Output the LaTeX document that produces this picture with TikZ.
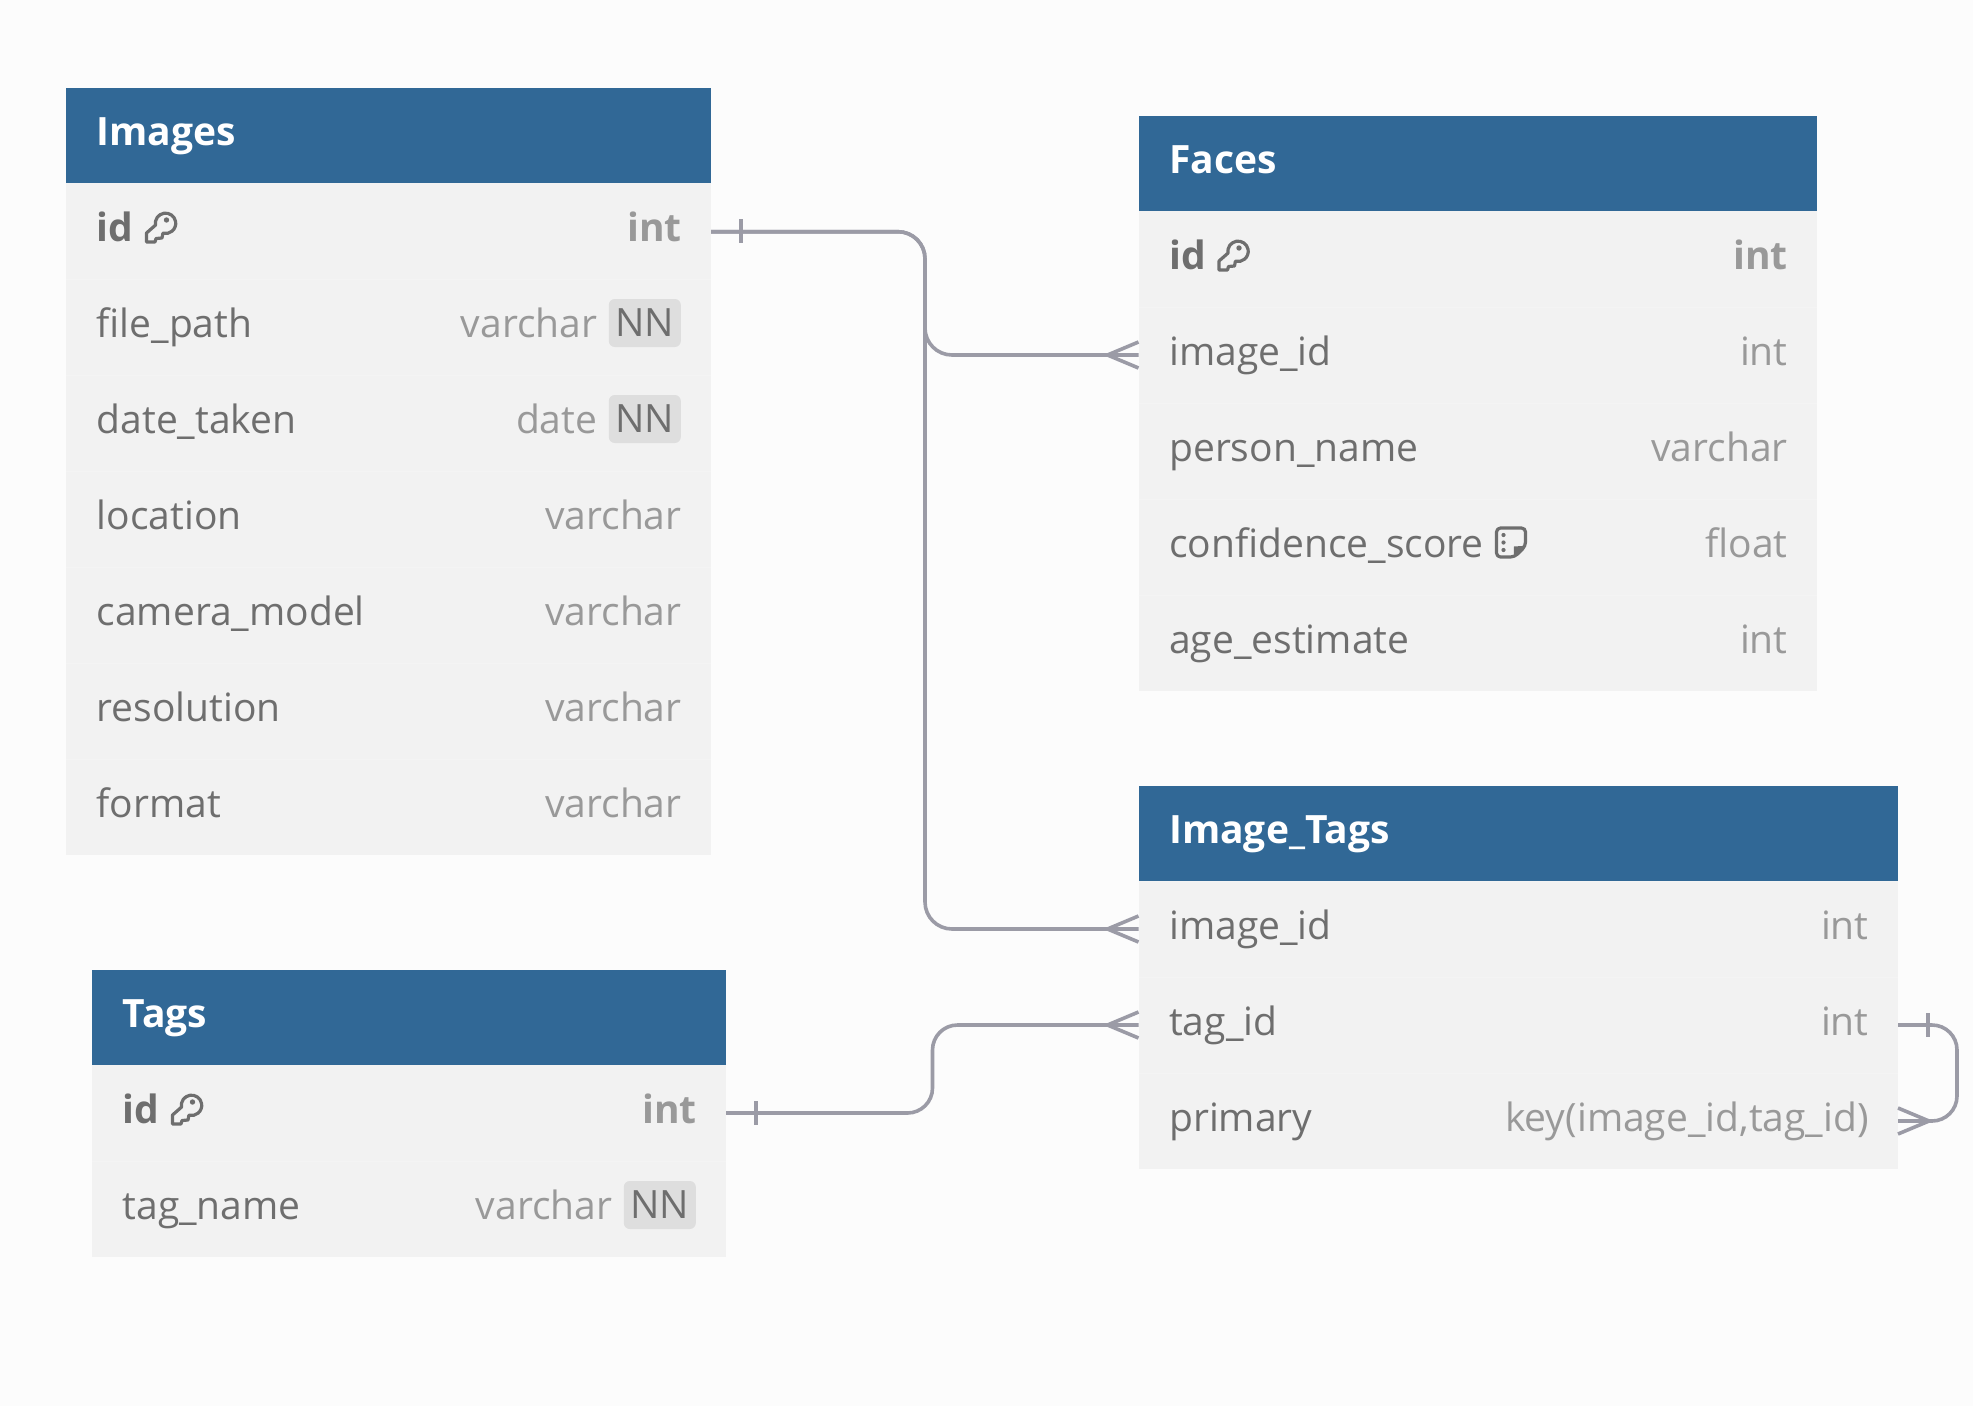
\documentclass[tikz,border=0pt]{standalone}
\usepackage{fontspec}
\setmainfont{Open Sans}
\definecolor{bgc}{HTML}{FCFCFC}
\definecolor{headc}{HTML}{316896}
\definecolor{bodyc}{HTML}{F2F2F2}
\definecolor{sepc}{HTML}{F4F4F4}
\definecolor{namec}{HTML}{6E6E6E}
\definecolor{typec}{HTML}{999999}
\definecolor{badgec}{HTML}{DEDEDE}
\definecolor{linec}{HTML}{9B9BA6}
\tikzset{
  headbox/.style={fill=headc,draw=none,anchor=north west,inner sep=0pt,outer sep=0pt,minimum height=95.5pt},
  rowbox/.style={fill=bodyc,draw=none,anchor=north west,inner sep=0pt,outer sep=0pt,minimum height=96pt},
  rowsep/.style={draw=sepc,line width=1pt},
  titletxt/.style={text=white,font=\fontsize{39}{44}\selectfont\bfseries,anchor=base west,inner sep=0pt},
  nametxt/.style={text=namec,font=\fontsize{39}{44}\selectfont,anchor=base west,inner sep=0pt},
  typetxt/.style={text=typec,font=\fontsize{39}{44}\selectfont,anchor=base east,inner sep=0pt},
  badge/.style={fill=badgec,rounded corners=6pt,text=namec,font=\fontsize{39}{44}\selectfont,anchor=east,inner sep=0pt,
    minimum width=72pt,minimum height=48pt,text height=26pt,text depth=0pt},
  conn/.style={draw=linec,line width=3.6pt},
  iconline/.style={draw=namec,line width=3.2pt,line join=round},
  keyicon/.pic={
    \draw[iconline] (10.5,14.1) arc[start angle=170,end angle=465,radius=10.2] -- (17,27) -- (11,27.5) -- (10,31) -- (1.5,31) -- (1.5,22) -- cycle;
    \fill[namec] (21.5,9) circle (2.7);
  },
  noteicon/.pic={
    \draw[iconline,rounded corners=4pt] (0,0) -- (29,0) -- (29,18) -- (18,29) -- (0,29) -- cycle;
    \draw[iconline,line join=miter] (27,19.5) -- (19,20) -- (19,27);
    \fill[namec] (19,20) -- (28,19) -- (19,28) -- cycle;
    \fill[namec] (7,7) circle (2.1) (7,14.5) circle (2.1) (7,22) circle (2.1);
  },
}
% header: name, x, y, width, title
\newcommand{\ERhead}[5]{%
  \node[headbox,minimum width=#4pt] (#1) at (#2,#3) {};
  \node[titletxt] (#1t) at ([xshift=30.5pt,yshift=-57.5pt]#1.north west) {#5};
}
% row: name, x, y, width, field, type
\newcommand{\ERrow}[6]{%
  \node[rowbox,minimum width=#4pt] (#1) at (#2,#3) {};
  \draw[rowsep] (#1.north west) -- (#1.north east);
  \node[nametxt] (#1n) at ([xshift=30.5pt,yshift=-58.3pt]#1.north west) {#5};
  \node[typetxt] (#1v) at ([xshift=-29.2pt,yshift=-58.3pt]#1.north east) {#6};
}
% row with NN badge
\newcommand{\ERrowNN}[6]{%
  \node[rowbox,minimum width=#4pt] (#1) at (#2,#3) {};
  \draw[rowsep] (#1.north west) -- (#1.north east);
  \node[nametxt] (#1n) at ([xshift=30.5pt,yshift=-58.3pt]#1.north west) {#5};
  \node[badge] (#1b) at ([xshift=-30pt,yshift=4pt]#1.east) {NN};
  \node[typetxt] (#1v) at ([xshift=-113.5pt,yshift=-58.3pt]#1.north east) {#6};
}
% primary key row
\newcommand{\ERrowPK}[6]{%
  \node[rowbox,minimum width=#4pt] (#1) at (#2,#3) {};
  \node[nametxt,font=\fontsize{39}{44}\selectfont\bfseries] (#1n) at ([xshift=30.5pt,yshift=-58.3pt]#1.north west) {#5};
  \node[typetxt,font=\fontsize{39}{44}\selectfont\bfseries] (#1v) at ([xshift=-29.2pt,yshift=-58.3pt]#1.north east) {#6};
  \pic at ([xshift=79pt,yshift=-28pt]#1.north west) {keyicon};
}
\newcommand{\Crowleft}[1]{\draw[conn] ([xshift=-31pt]#1) -- ([yshift=13pt]#1) ([xshift=-31pt]#1) -- ([yshift=-13pt]#1);}
\newcommand{\Crowright}[1]{\draw[conn] ([xshift=31pt]#1) -- ([yshift=13pt]#1) ([xshift=31pt]#1) -- ([yshift=-13pt]#1);}
\newcommand{\Onemark}[1]{\draw[conn,line width=3.2pt] ([xshift=30pt,yshift=12pt]#1) -- ([xshift=30pt,yshift=-12pt]#1);}
\begin{document}
\begin{tikzpicture}[x=1pt,y=-1pt]
\useasboundingbox (0,0) rectangle (1973,1406);
\fill[bgc] (0,0) rectangle (1973,1406);

% Images
\ERhead{img}{66}{87.5}{645}{Images}
\ERrowPK{imgid}{66}{183}{645}{id}{int}
\ERrowNN{imgpath}{66}{279}{645}{file\_path}{varchar}
\ERrowNN{imgdate}{66}{375}{645}{date\_taken}{date}
\ERrow{imgloc}{66}{471}{645}{location}{varchar}
\ERrow{imgcam}{66}{567}{645}{camera\_model}{varchar}
\ERrow{imgres}{66}{663}{645}{resolution}{varchar}
\ERrow{imgfmt}{66}{759}{645}{format}{varchar}

% Faces
\ERhead{fac}{1138.5}{115.5}{678.5}{Faces}
\ERrowPK{facid}{1138.5}{211}{678.5}{id}{int}
\ERrow{facimg}{1138.5}{307}{678.5}{image\_id}{int}
\ERrow{facper}{1138.5}{403}{678.5}{person\_name}{varchar}
\ERrow{facconf}{1138.5}{499}{678.5}{confidence\_score}{float}
\ERrow{facage}{1138.5}{595}{678.5}{age\_estimate}{int}
\pic at ([xshift=358pt,yshift=-29pt]facconf.north west) {noteicon};

% Image_Tags
\ERhead{itg}{1138.5}{785.5}{759.5}{Image\_Tags}
\ERrow{itgimg}{1138.5}{881}{759.5}{image\_id}{int}
\ERrow{itgtag}{1138.5}{977}{759.5}{tag\_id}{int}
\ERrow{itgpri}{1138.5}{1073}{759.5}{primary}{key(image\_id,tag\_id)}

% Tags
\ERhead{tag}{92}{969.5}{634}{Tags}
\ERrowPK{tagid}{92}{1065}{634}{id}{int}
\ERrowNN{tagname}{92}{1161}{634}{tag\_name}{varchar}

% routing columns
\coordinate (busA) at (925,0);
\coordinate (busB) at (932.5,0);
\coordinate (busC) at (1957,0);

% connectors
\draw[conn,rounded corners=27pt] ([yshift=-0.7pt]imgid.east) -- ([yshift=-0.7pt]busA|-imgid.east) -- (busA|-facimg.west) -- (facimg.west);
\draw[conn,rounded corners=27pt] ([yshift=-0.7pt]imgid.east) -- ([yshift=-0.7pt]busA|-imgid.east) -- (busA|-itgimg.west) -- (itgimg.west);
\draw[conn,rounded corners=25pt] (tagid.east) -- (busB|-tagid.east) -- (busB|-itgtag.west) -- (itgtag.west);
\draw[conn,rounded corners=25pt] (itgtag.east) -- (busC|-itgtag.east) -- (busC|-itgpri.east) -- (itgpri.east);

\Onemark{imgid.east}
\Onemark{tagid.east}
\Onemark{itgtag.east}
\Crowleft{facimg.west}
\Crowleft{itgimg.west}
\Crowleft{itgtag.west}
\Crowright{itgpri.east}
\end{tikzpicture}
\end{document}
